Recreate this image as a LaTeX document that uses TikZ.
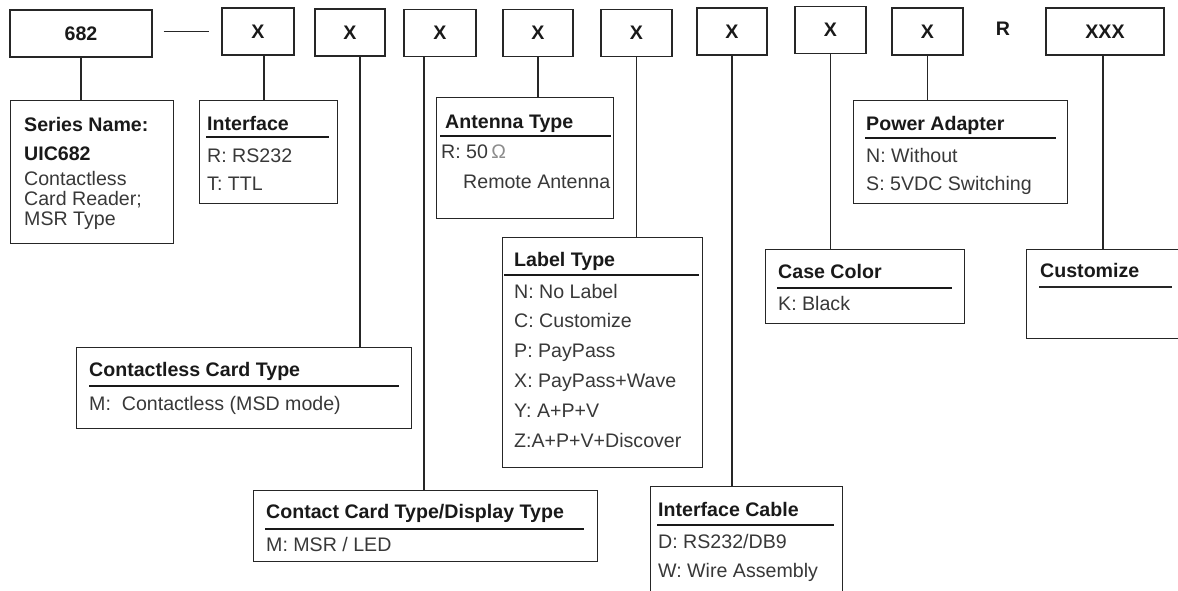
\documentclass[tikz,border=0pt]{standalone}
\usepackage{fontspec}
\setmainfont{Liberation Sans}
\tikzset{
  codebox/.style={draw=black!85, line width=1.4pt, minimum height=47pt, inner sep=0pt, font=\bfseries, text=black!90},
  infobox/.style={draw=black!85, line width=1.4pt, anchor=north west, inner sep=0pt},
  head/.style={anchor=base west, inner sep=0pt, font=\bfseries, text=black!90},
  item/.style={anchor=base west, inner sep=0pt, text=black!78},
  rule/.style={line width=2.6pt, black!90},
  link/.style={line width=1.4pt, black!85},
}
\begin{document}
\fontsize{19.6}{22}\selectfont
\begin{tikzpicture}[x=1pt, y=-1pt]
  \useasboundingbox (0,0) rectangle (1178,590);
  \clip (0,0) rectangle (1178,590);

  % part number boxes
  \node[codebox, minimum width=142pt] (p682) at (81,33.5) {682};
  \node[codebox, minimum width=72pt] (x1) at (258,31.5) {X};
  \node[codebox, minimum width=70pt] (x2) at (350,32.5) {X};
  \node[codebox, minimum width=72pt] (x3) at (440,33) {X};
  \node[codebox, minimum width=70pt] (x4) at (538,33) {X};
  \node[codebox, minimum width=71pt] (x5) at (636.5,33) {X};
  \node[codebox, minimum width=70pt] (x6) at (732,31.5) {X};
  \node[codebox, minimum width=71pt] (x7) at (830.5,30) {X};
  \node[codebox, minimum width=71pt] (x8) at (927.5,31.5) {X};
  \node[inner sep=0pt, font=\bfseries, text=black!90] (rr) at (1003,29) {R};
  \node[codebox, minimum width=118pt] (xxx) at (1105,31.5) {XXX};
  \draw[link] ([xshift=11pt]p682.east |- x1.west) -- ([xshift=-12pt]x1.west);

  % description boxes
  \node[infobox, minimum width=163pt, minimum height=143pt] (series) at (10,100) {};
  \node[head] (series-t) at (24,131) {Series Name:};
  \node[head] (series-n) at (24,160) {UIC682};
  \node[item] (series-a) at (24,185) {Contactless};
  \node[item] (series-b) at (24,205) {Card Reader;};
  \node[item] (series-c) at (24,225) {MSR Type};

  \node[infobox, minimum width=138pt, minimum height=103pt] (iface) at (199,100) {};
  \node[head] (iface-t) at (207,130.5) {Interface};
  \draw[rule] (206,137) -- (329,137);
  \node[item] (iface-r) at (207,162) {R: RS232};
  \node[item] (iface-s) at (207,190) {T: TTL};

  \node[infobox, minimum width=177pt, minimum height=121pt] (ant) at (436,97) {};
  \node[head] (ant-t) at (445,128) {Antenna Type};
  \draw[rule] (440,136) -- (611,136);
  \node[item] (ant-r) at (441,158) {R: 50\,{\color{black!45}Ω}};
  \node[item] (ant-s) at (463,188) {Remote Antenna};

  \node[infobox, minimum width=200pt, minimum height=230pt] (lbl) at (502,237) {};
  \node[head] (lbl-t) at (514,266) {Label Type};
  \draw[rule] (504,275) -- (699,275);
  \node[item] (lbl-n) at (514,298) {N: No Label};
  \node[item] (lbl-c) at (514,327) {C: Customize};
  \node[item] (lbl-p) at (514,357) {P: PayPass};
  \node[item] (lbl-x) at (514,387) {X: PayPass+Wave};
  \node[item] (lbl-y) at (514,417) {Y: A+P+V};
  \node[item] (lbl-z) at (514,447) {Z:A+P+V+Discover};

  \node[infobox, minimum width=335pt, minimum height=81pt] (cct) at (76,347) {};
  \node[head] (cct-t) at (89,376) {Contactless Card Type};
  \draw[rule] (89,386) -- (399,386);
  \node[item] (cct-m) at (89,410) {M:\ \ Contactless (MSD mode)};

  \node[infobox, minimum width=344pt, minimum height=71pt] (ccd) at (253,490) {};
  \node[head] (ccd-t) at (266,518) {Contact Card Type/Display Type};
  \draw[rule] (265,529) -- (584,529);
  \node[item] (ccd-m) at (266,551) {M: MSR / LED};

  \node[infobox, minimum width=192pt, minimum height=130pt] (cable) at (650,486) {};
  \node[head] (cable-t) at (658,516) {Interface Cable};
  \draw[rule] (657,525) -- (834,525);
  \node[item] (cable-d) at (658,548) {D: RS232/DB9};
  \node[item] (cable-w) at (658,577) {W: Wire Assembly};

  \node[infobox, minimum width=214pt, minimum height=103pt] (pwr) at (853,100) {};
  \node[head] (pwr-t) at (866,130) {Power Adapter};
  \draw[rule] (865,138) -- (1056,138);
  \node[item] (pwr-n) at (866,162) {N: Without};
  \node[item] (pwr-s) at (866,190) {S: 5VDC Switching};

  \node[infobox, minimum width=199pt, minimum height=74pt] (case) at (765,249) {};
  \node[head] (case-t) at (778,278) {Case Color};
  \draw[rule] (777,288) -- (952,288);
  \node[item] (case-k) at (778,310) {K: Black};

  \node[infobox, minimum width=170pt, minimum height=89pt] (cust) at (1026,249) {};
  \node[head] (cust-t) at (1040,277) {Customize};
  \draw[link] (1039,287) -- (1172,287);

  % connectors
  \draw[link] (p682.south) -- (p682.south |- series.north);
  \draw[link] ([xshift=6pt]x1.south) -- ([xshift=6pt]x1.south |- iface.north);
  \draw[link] ([xshift=10pt]x2.south) -- ([xshift=10pt]x2.south |- cct.north);
  \draw[link] ([xshift=-16pt]x3.south) -- ([xshift=-16pt]x3.south |- ccd.north);
  \draw[link] (x4.south) -- (x4.south |- ant.north);
  \draw[link] (x5.south) -- (x5.south |- lbl.north);
  \draw[link] (x6.south) -- (x6.south |- cable.north);
  \draw[link] (x7.south) -- (x7.south |- case.north);
  \draw[link] (x8.south) -- (x8.south |- pwr.north);
  \draw[link] ([xshift=-2pt]xxx.south) -- ([xshift=-2pt]xxx.south |- cust.north);
\end{tikzpicture}
\end{document}
